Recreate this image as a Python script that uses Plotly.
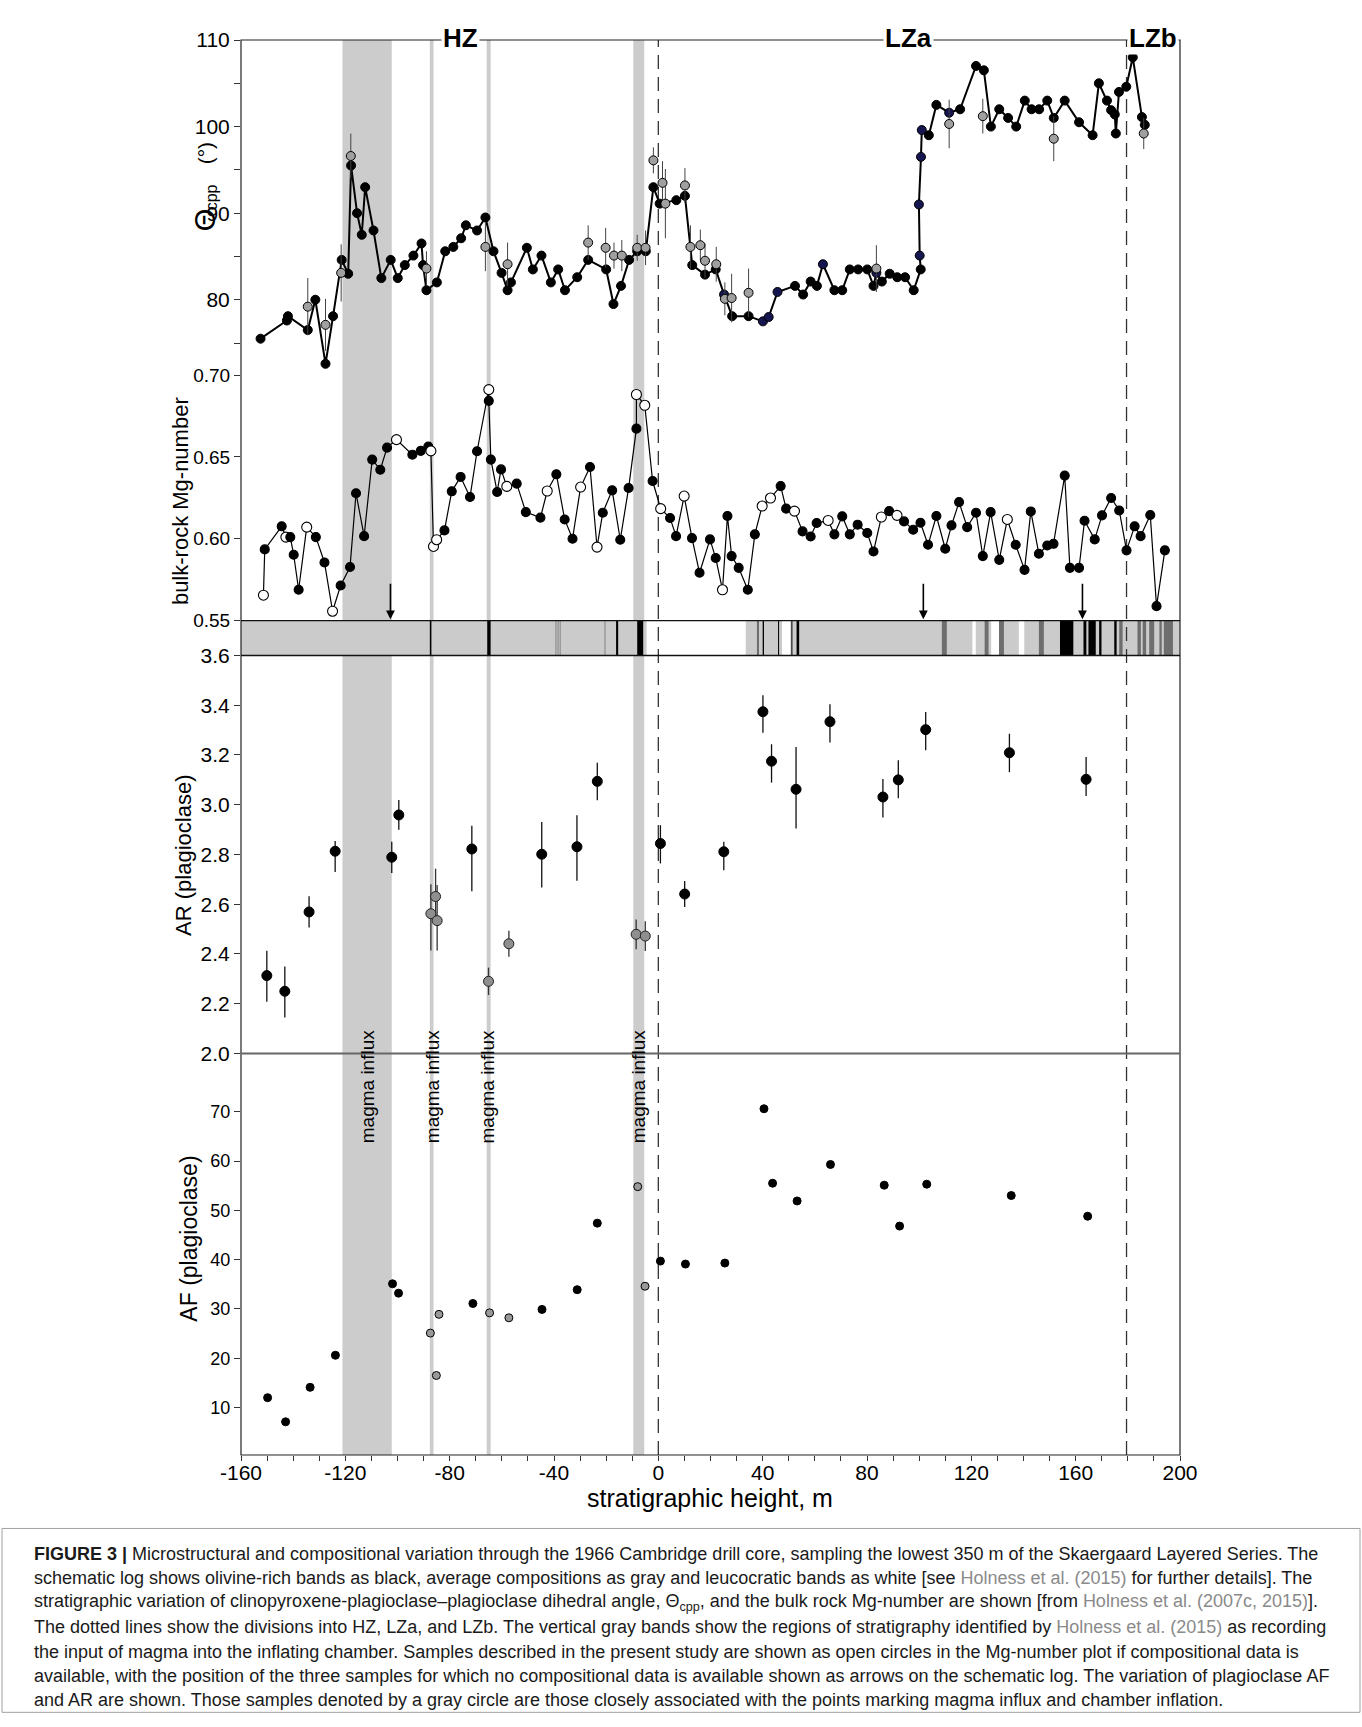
import plotly.graph_objects as go

# ---------------- DATA ----------------
# Theta_cpp main series (connected line), stratigraphic height (m) and angle (deg)
theta_h = [-152.5, -142.4, -142.0, -134.4, -131.5, -127.6, -124.7, -121.4, -118.9, -117.8,
           -115.5, -113.7, -112.4, -109.2, -106.2, -102.6, -99.9, -97.2, -93.9, -90.8,
           -90.2, -88.9, -84.9, -81.7, -78.6, -75.6, -73.8, -69.5, -66.3, -63.2,
           -60.1, -57.8, -56.5, -50.4, -48.1, -44.8, -41.2, -38.4, -35.8, -31.1,
           -26.9, -20.0, -17.2, -14.3, -11.2, -8.1, -4.8, -1.9, 0.5, 6.9,
           10.2, 13.0, 17.9, 22.0, 25.2, 28.3, 34.6, 40.1, 42.3, 45.7,
           52.4, 55.5, 58.4, 60.8, 63.1, 67.5, 70.5, 73.4, 76.6, 80.1,
           82.5, 83.6, 85.7, 88.7, 91.6, 94.6, 97.9, 100.6, 100.2, 99.9,
           100.7, 101.0, 103.7, 106.6, 111.5, 115.7, 121.8, 124.8, 127.5, 130.7,
           134.1, 137.2, 140.5, 143.1, 146.0, 149.1, 151.6, 155.8, 161.3, 166.5,
           168.9, 172.0, 173.6, 175.0, 175.4, 176.6, 179.4, 181.9, 185.4, 186.5]
theta_v = [75.5, 77.6, 78.1, 76.5, 80.0, 72.6, 78.1, 84.6, 83.0, 95.5,
           90.0, 87.5, 93.0, 88.0, 82.5, 84.6, 82.5, 84.0, 85.1, 86.5,
           84.0, 81.1, 82.0, 85.6, 86.1, 87.1, 88.6, 88.0, 89.5, 85.6,
           83.1, 81.1, 82.0, 86.0, 83.5, 85.1, 82.0, 83.5, 81.1, 82.6,
           84.6, 83.5, 79.5, 81.6, 84.6, 85.6, 85.6, 93.0, 91.1, 91.5,
           92.0, 84.0, 82.9, 83.5, 80.6, 78.1, 78.1, 77.5, 78.0, 80.9,
           81.6, 80.6, 82.1, 81.6, 84.1, 81.1, 81.1, 83.5, 83.5, 83.5,
           81.6, 83.1, 82.1, 83.0, 82.6, 82.6, 81.1, 83.5, 85.1, 91.0,
           96.5, 99.6, 99.0, 102.5, 101.6, 102.0, 107.0, 106.5, 100.0, 102.0,
           101.0, 100.0, 103.0, 102.0, 102.0, 103.0, 101.0, 103.0, 100.5, 99.0,
           105.0, 103.0, 101.9, 101.4, 99.2, 104.0, 104.6, 108.0, 101.1, 100.2]
theta_kind = ['k', 'k', 'k', 'k', 'k', 'k', 'k', 'k', 'k', 'k',
              'k', 'k', 'k', 'k', 'k', 'k', 'k', 'k', 'k', 'k',
              'k', 'k', 'k', 'k', 'k', 'k', 'k', 'k', 'k', 'k',
              'k', 'k', 'k', 'k', 'k', 'k', 'k', 'k', 'k', 'k',
              'k', 'k', 'k', 'k', 'k', 'k', 'k', 'k', 'k', 'k',
              'k', 'k', 'k', 'k', 'b', 'k', 'k', 'b', 'b', 'b',
              'k', 'k', 'k', 'k', 'b', 'k', 'k', 'k', 'k', 'k',
              'k', 'b', 'k', 'k', 'k', 'k', 'k', 'k', 'b', 'b',
              'b', 'b', 'k', 'k', 'b', 'k', 'k', 'k', 'k', 'k',
              'k', 'k', 'k', 'k', 'k', 'k', 'k', 'k', 'k', 'k',
              'k', 'k', 'k', 'k', 'k', 'k', 'k', 'k', 'k', 'k']

# Theta_cpp gray (magma-influx associated) samples with error bars
theta_gray_h = [-134.4, -127.6, -121.6, -117.9, -88.9, -66.3, -57.8, -26.9, -20.2, -17.0,
                -14.0, -8.1, -4.9, -1.9, 1.6, 2.7, 10.2, 12.3, 16.1, 17.9,
                22.2, 25.5, 28.1, 34.6, 83.6, 111.5, 124.4, 151.6, 186.1]
theta_gray_v = [79.2, 77.1, 83.1, 96.6, 83.6, 86.1, 84.1, 86.6, 86.0, 85.1,
                85.1, 86.0, 86.0, 96.1, 93.5, 91.1, 93.2, 86.1, 86.3, 84.5,
                84.1, 80.1, 80.2, 80.8, 83.6, 100.3, 101.2, 98.6, 99.2]
theta_gray_err = [3.3, 3.0, 3.3, 2.6, 2.0, 2.8, 2.5, 2.0, 2.3, 1.5,
                  1.8, 1.5, 2.0, 1.5, 2.5, 4.0, 2.0, 2.5, 1.8, 2.0,
                  2.0, 1.9, 2.8, 2.8, 2.7, 2.8, 2.0, 2.6, 1.8]

# bulk-rock Mg-number
mg_h = [-151.4, -150.9, -144.4, -142.8, -141.1, -139.8, -137.9, -134.8, -131.3, -128.0,
        -124.9, -121.8, -118.2, -115.9, -112.8, -109.7, -106.6, -104.0, -100.4, -94.3,
        -91.1, -88.2, -87.2, -86.2, -85.0, -82.0, -79.2, -75.8, -72.2, -69.5,
        -65.0, -65.0, -64.2, -61.8, -60.3, -58.1, -54.3, -50.8, -45.2, -42.6,
        -39.1, -35.9, -32.9, -29.8, -26.2, -23.5, -21.3, -17.7, -14.6, -11.4,
        -8.4, -8.4, -5.2, -2.2, 0.9, 4.5, 6.8, 9.9, 12.9, 15.8,
        19.8, 22.0, 24.6, 26.5, 28.1, 30.8, 34.3, 37.0, 39.8, 43.0,
        46.9, 49.0, 52.2, 55.3, 58.4, 60.7, 65.1, 67.5, 70.5, 73.4,
        76.4, 80.1, 82.5, 85.5, 88.5, 91.5, 94.2, 97.7, 100.5, 103.4,
        106.6, 110.0, 112.4, 115.3, 118.4, 121.8, 124.4, 127.4, 130.7, 133.8,
        137.0, 140.4, 142.8, 145.9, 149.1, 151.5, 155.8, 157.8, 161.3, 163.4,
        167.3, 170.1, 173.6, 176.7, 179.5, 182.6, 184.9, 188.6, 191.0, 194.2]
mg_v = [0.5655, 0.5935, 0.6076, 0.6010, 0.6010, 0.5902, 0.5688, 0.6071, 0.6010, 0.5855,
        0.5557, 0.5714, 0.5827, 0.6278, 0.6016, 0.6484, 0.6422, 0.6557, 0.6606, 0.6514,
        0.6537, 0.6563, 0.6537, 0.5953, 0.5994, 0.6051, 0.6290, 0.6378, 0.6255, 0.6535,
        0.6912, 0.6843, 0.6484, 0.6286, 0.6424, 0.6320, 0.6337, 0.6163, 0.6129, 0.6292,
        0.6394, 0.6118, 0.6000, 0.6316, 0.6439, 0.5949, 0.6159, 0.6296, 0.5994, 0.6310,
        0.6673, 0.6882, 0.6816, 0.6353, 0.6184, 0.6127, 0.6016, 0.6261, 0.6004, 0.5792,
        0.5996, 0.5882, 0.5688, 0.6139, 0.5894, 0.5822, 0.5688, 0.6027, 0.6200, 0.6249,
        0.6322, 0.6184, 0.6169, 0.6045, 0.6014, 0.6096, 0.6112, 0.6027, 0.6137, 0.6027,
        0.6086, 0.6035, 0.5922, 0.6133, 0.6169, 0.6143, 0.6106, 0.6055, 0.6098, 0.5963,
        0.6139, 0.5939, 0.6082, 0.6224, 0.6071, 0.6159, 0.5894, 0.6163, 0.5871, 0.6118,
        0.5963, 0.5810, 0.6167, 0.5908, 0.5959, 0.5969, 0.6386, 0.5822, 0.5822, 0.6110,
        0.5996, 0.6143, 0.6249, 0.6173, 0.5929, 0.6076, 0.6016, 0.6145, 0.5588, 0.5929]
mg_kind = ['o', 'k', 'k', 'o', 'k', 'k', 'k', 'o', 'k', 'k',
           'o', 'k', 'k', 'k', 'k', 'k', 'k', 'k', 'o', 'k',
           'k', 'k', 'o', 'o', 'o', 'k', 'k', 'k', 'k', 'k',
           'o', 'k', 'k', 'k', 'k', 'o', 'k', 'k', 'k', 'o',
           'k', 'k', 'k', 'o', 'k', 'o', 'k', 'k', 'k', 'k',
           'k', 'o', 'o', 'k', 'o', 'k', 'k', 'o', 'k', 'k',
           'k', 'k', 'o', 'k', 'k', 'k', 'k', 'k', 'o', 'o',
           'k', 'k', 'o', 'k', 'k', 'k', 'o', 'k', 'k', 'k',
           'k', 'k', 'k', 'o', 'k', 'o', 'k', 'k', 'k', 'k',
           'k', 'k', 'k', 'k', 'k', 'k', 'k', 'k', 'k', 'o',
           'k', 'k', 'k', 'k', 'k', 'k', 'k', 'k', 'k', 'k',
           'k', 'k', 'k', 'k', 'k', 'k', 'k', 'k', 'k', 'k']

# plagioclase AR
ar_h = [-150.1, -143.2, -133.9, -123.9, -102.2, -99.5, -71.5, -44.7, -31.2, -23.4,
        0.8, 10.1, 25.1, 40.1, 43.4, 52.8, 65.8, 86.1, 92.0, 102.5, 134.6, 164.0]
ar_v = [2.313, 2.250, 2.569, 2.813, 2.789, 2.959, 2.822, 2.801, 2.831, 3.094,
        2.844, 2.641, 2.811, 3.374, 3.175, 3.062, 3.334, 3.031, 3.100, 3.302, 3.209, 3.102]
ar_err_plus = [0.100, 0.100, 0.063, 0.041, 0.062, 0.060, 0.094, 0.130, 0.127, 0.075,
               0.074, 0.052, 0.040, 0.066, 0.068, 0.170, 0.070, 0.072, 0.079, 0.071, 0.076, 0.090]
ar_err_minus = [0.105, 0.105, 0.063, 0.083, 0.063, 0.060, 0.170, 0.134, 0.137, 0.076,
                0.080, 0.052, 0.074, 0.085, 0.086, 0.158, 0.084, 0.082, 0.074, 0.083, 0.078, 0.067]
ar_gray_h = [-87.2, -85.4, -84.8, -65.1, -57.3, -8.5, -5.0]
ar_gray_v = [2.562, 2.631, 2.534, 2.290, 2.441, 2.479, 2.472]
ar_gray_plus = [0.118, 0.112, 0.143, 0.055, 0.052, 0.060, 0.060]
ar_gray_minus = [0.148, 0.112, 0.120, 0.055, 0.052, 0.060, 0.060]

# plagioclase AF
af_h = [-149.8, -142.9, -133.5, -123.8, -101.9, -99.6, -71.1, -44.6, -31.1, -23.4,
        0.8, 10.4, 25.5, 40.5, 43.8, 53.2, 66.0, 86.6, 92.5, 102.9, 135.3, 164.6]
af_v = [12.0, 7.1, 14.1, 20.6, 35.1, 33.2, 31.1, 29.9, 33.9, 47.4,
        39.7, 39.1, 39.3, 70.6, 55.5, 51.9, 59.3, 55.1, 46.8, 55.3, 53.0, 48.8]
af_gray_h = [-87.4, -85.1, -84.1, -64.7, -57.3, -7.9, -5.1]
af_gray_v = [25.1, 16.5, 28.9, 29.2, 28.2, 54.8, 34.6]

# schematic log: segments (start, end, class) G=gray, W=white, K=black (olivine-rich), D=dark gray
log_start = [-160.0, -4.5, -87.6, -65.6, -39.4, -38.6, -37.8, -20.6, -16.2, -8.1,
             37.8, 40.0, 45.9, 47.4, 51.0, 53.0, 108.7, 120.4, 125.1, 127.6,
             130.6, 138.2, 145.9, 154.0, 163.0, 164.9, 169.0, 174.8, 176.7, 183.7,
             185.7, 188.2, 192.1, 193.8]
log_end = [200.0, 33.5, -87.0, -64.3, -39.1, -38.3, -37.5, -20.3, -15.4, -5.8,
           38.6, 40.5, 46.3, 50.6, 51.4, 54.0, 110.6, 121.7, 126.6, 130.6,
           132.5, 140.3, 147.8, 159.1, 164.1, 167.7, 169.9, 175.7, 178.0, 185.0,
           187.0, 190.1, 193.0, 197.3]
log_class = ['G', 'W', 'K', 'K', 'D', 'D', 'D', 'D', 'K', 'K',
             'D', 'K', 'K', 'W', 'K', 'K', 'D', 'W', 'D', 'W',
             'D', 'W', 'D', 'K', 'K', 'K', 'K', 'K', 'D', 'D',
             'D', 'D', 'D', 'D']

# magma influx bands
band_start = [-121.1, -87.6, -65.8, -9.6]
band_end = [-102.2, -86.2, -64.3, -5.4]
influx_label_x = [-111.5, -86.6, -65.4, -7.6]

# stratigraphic divisions
division_h = [0.0, 179.5]
zone_names = ['HZ', 'LZa', 'LZb']
zone_x = [-76.0, 96.0, 189.5]

# samples without compositional data (arrows)
arrow_h = [-102.7, 101.6, 162.6]

x_ticks = [-160, -120, -80, -40, 0, 40, 80, 120, 160, 200]
x_minor = [-150, -140, -130, -110, -100, -90, -70, -60, -50, -30, -20, -10, 10, 20, 30,
           50, 60, 70, 90, 100, 110, 130, 140, 150, 170, 180, 190]
theta_ticks = [75, 80, 85, 90, 95, 100, 105, 110]
theta_ticklabels = ['', '80', '', '90', '', '100', '', '110']
mg_ticks = [0.55, 0.60, 0.65, 0.70]
ar_ticks = [2.0, 2.2, 2.4, 2.6, 2.8, 3.0, 3.2, 3.4, 3.6]
af_ticks = [10, 20, 30, 40, 50, 60, 70]

# ---------------- LAYOUT GEOMETRY (pixels) ----------------
W, H = 1362, 1727
L, R, T, B = 241, 1180, 39.6, 1455.5
def py(y):
    return (B - y) / (B - T)
def pxf(x):
    return (x - L) / (R - L)

FONT = 'Liberation Sans, Arial, sans-serif'
GRAYBAND = '#cccccc'
log_colors = {'G': '#cbcbcb', 'W': '#ffffff', 'K': '#000000', 'D': '#6e6e6e'}

fig = go.Figure()

# Theta main line
fig.add_trace(go.Scatter(
    x=theta_h, y=theta_v, mode='lines+markers', xaxis='x', yaxis='y',
    line=dict(color='black', width=2),
    marker=dict(size=9, opacity=1, color=['#15154f' if k == 'b' else '#000000' for k in theta_kind],
                line=dict(color='#000000', width=1)),
    showlegend=False))
# Theta gray
fig.add_trace(go.Scatter(
    x=theta_gray_h, y=theta_gray_v, mode='markers', xaxis='x', yaxis='y',
    marker=dict(size=9, opacity=1, color='#a0a0a0', line=dict(color='#000000', width=1)),
    error_y=dict(type='data', array=theta_gray_err, color='#444444', thickness=1, width=0),
    showlegend=False))
# Mg-number
fig.add_trace(go.Scatter(
    x=mg_h, y=mg_v, mode='lines+markers', xaxis='x', yaxis='y2',
    line=dict(color='#000000', width=1.2),
    marker=dict(size=[10 if k == 'o' else 9 for k in mg_kind], opacity=1,
                color=['#ffffff' if k == 'o' else '#000000' for k in mg_kind],
                line=dict(color='#000000', width=1.1)),
    showlegend=False))
# AR black
fig.add_trace(go.Scatter(
    x=ar_h, y=ar_v, mode='markers', xaxis='x', yaxis='y3',
    marker=dict(size=10, color='#000000', line=dict(color='#000000', width=1)),
    error_y=dict(type='data', symmetric=False, array=ar_err_plus, arrayminus=ar_err_minus,
                 color='#111111', thickness=1.3, width=0),
    showlegend=False))
# AR gray
fig.add_trace(go.Scatter(
    x=ar_gray_h, y=ar_gray_v, mode='markers', xaxis='x', yaxis='y3',
    marker=dict(size=10, color='#8f8f8f', line=dict(color='#222222', width=1)),
    error_y=dict(type='data', symmetric=False, array=ar_gray_plus, arrayminus=ar_gray_minus,
                 color='#333333', thickness=1.3, width=0),
    showlegend=False))
# AF
fig.add_trace(go.Scatter(
    x=af_h, y=af_v, mode='markers', xaxis='x', yaxis='y4',
    marker=dict(size=8, color='#000000', line=dict(color='#000000', width=1)),
    showlegend=False))
fig.add_trace(go.Scatter(
    x=af_gray_h, y=af_gray_v, mode='markers', xaxis='x', yaxis='y4',
    marker=dict(size=8, color='#999999', line=dict(color='#000000', width=1)),
    showlegend=False))

shapes = []
# magma influx bands
for s, e in zip(band_start, band_end):
    shapes.append(dict(type='rect', xref='x', yref='paper', x0=s, x1=e, y0=0, y1=1,
                       fillcolor=GRAYBAND, line=dict(width=0), layer='below'))
# schematic log
strip_lo, strip_hi = py(655.5), py(620.5)
for s, e, c in zip(log_start, log_end, log_class):
    shapes.append(dict(type='rect', xref='x', yref='paper', x0=s, x1=e, y0=strip_lo, y1=strip_hi,
                       fillcolor=log_colors[c], line=dict(width=0), layer='below'))
# division dashed lines
for d in division_h:
    shapes.append(dict(type='line', xref='x', yref='paper', x0=d, x1=d, y0=0, y1=1,
                       line=dict(color='#333333', width=1.3, dash='14px,8px'), layer='below'))
# frame and separators
shapes.append(dict(type='rect', xref='paper', yref='paper', x0=0, x1=1, y0=0, y1=1,
                   line=dict(color='#222222', width=1.2), layer='above'))
for yy in (strip_lo, strip_hi):
    shapes.append(dict(type='line', xref='paper', yref='paper', x0=0, x1=1, y0=yy, y1=yy,
                       line=dict(color='#111111', width=1.3), layer='above'))
shapes.append(dict(type='line', xref='paper', yref='paper', x0=0, x1=1, y0=py(1053.7), y1=py(1053.7),
                   line=dict(color='#666666', width=2), layer='above'))
# caption box
shapes.append(dict(type='rect', xref='paper', yref='paper', x0=pxf(2), x1=pxf(1360),
                   y0=py(1713), y1=py(1529), line=dict(color='#a0a0a0', width=1)))

ann = []
for name, xz in zip(zone_names, zone_x):
    ann.append(dict(x=xz, y=1, xref='x', yref='paper', text='<b>%s</b>' % name, showarrow=False,
                    yanchor='middle', xanchor='center', yshift=2, bgcolor='white', borderpad=1,
                    font=dict(family=FONT, size=26, color='black')))
for xz in influx_label_x:
    ann.append(dict(x=xz, y=py(1087), xref='x', yref='paper', text='magma influx', textangle=-90,
                    showarrow=False, xanchor='center', yanchor='middle',
                    font=dict(family=FONT, size=19, color='black')))
for ah in arrow_h:
    ann.append(dict(x=ah, y=0.5508, xref='x', yref='y2', text='', showarrow=True, ax=0, ay=-37,
                    arrowhead=2, arrowsize=1.1, arrowwidth=1.6, arrowcolor='black'))

def vtitle(text, xpix, ypix, size):
    return dict(x=pxf(xpix), y=py(ypix), xref='paper', yref='paper', textangle=-90, showarrow=False,
                xanchor='center', yanchor='middle', text=text,
                font=dict(family=FONT, size=size, color='black'))

# Theta_cpp title built from pieces: big Theta, subscript cpp, (°)
ann.append(vtitle('Θ', 205, 220, 29))
ann.append(vtitle('cpp', 211, 197, 16))
ann.append(vtitle('(°)', 205, 153, 21))
ann.append(vtitle('bulk-rock Mg-number', 180, 501, 22))
ann.append(vtitle('AR (plagioclase)', 184, 856, 22))
ann.append(vtitle('AF (plagioclase)', 189, 1239, 23))
ann.append(dict(x=pxf(710), y=py(1499), xref='paper', yref='paper', showarrow=False,
                xanchor='center', yanchor='middle',
                text='stratigraphic height, m', font=dict(family=FONT, size=25, color='black')))

G = '<span style="color:#8a8a8a">'
caption_lines = [
    '<b>FIGURE 3 |</b> Microstructural and compositional variation through the 1966 Cambridge drill core, sampling the lowest 350 m of the Skaergaard Layered Series. The',
    'schematic log shows olivine-rich bands as black, average compositions as gray and leucocratic bands as white [see ' + G + 'Holness et al. (2015)</span> for further details]. The',
    'stratigraphic variation of clinopyroxene-plagioclase–plagioclase dihedral angle, Θ<sub>cpp</sub>, and the bulk rock Mg-number are shown [from ' + G + 'Holness et al. (2007c, 2015)</span>].',
    'The dotted lines show the divisions into HZ, LZa, and LZb. The vertical gray bands show the regions of stratigraphy identified by ' + G + 'Holness et al. (2015)</span> as recording',
    'the input of magma into the inflating chamber. Samples described in the present study are shown as open circles in the Mg-number plot if compositional data is',
    'available, with the position of the three samples for which no compositional data is available shown as arrows on the schematic log. The variation of plagioclase AF',
    'and AR are shown. Those samples denoted by a gray circle are those closely associated with the points marking magma influx and chamber inflation.',
]
caption_y = [1555, 1579, 1603, 1627.5, 1652.5, 1677, 1701]
for line, yy in zip(caption_lines, caption_y):
    ann.append(dict(x=pxf(32), y=py(yy), xref='paper', yref='paper', text=line, showarrow=False,
                    xanchor='left', yanchor='middle', align='left',
                    font=dict(family=FONT, size=18, color='#1a1a1a')))

axis_common = dict(showgrid=False, zeroline=False, showline=False, ticks='outside', ticklen=6,
                   tickcolor='#333333', tickwidth=1, anchor='x', automargin=False)
fig.update_layout(
    width=W, height=H, paper_bgcolor='white', plot_bgcolor='white',
    margin=dict(l=L, r=W - R, t=T, b=H - B, pad=0, autoexpand=False),
    font=dict(family=FONT, color='black'),
    xaxis=dict(range=[-160, 200], tickvals=x_ticks, ticktext=[str(v) for v in x_ticks],
               showgrid=False, zeroline=False, showline=False, ticks='outside', ticklen=5,
               tickcolor='#333333', anchor='y4', automargin=False, tickfont=dict(size=21),
               minor=dict(tickvals=x_minor, ticks='outside', ticklen=5, tickcolor='#333333')),
    yaxis=dict(domain=[py(368.8), 1], range=[72, 110], tickvals=theta_ticks, ticktext=theta_ticklabels,
               tickfont=dict(size=21), **axis_common),
    yaxis2=dict(domain=[py(620.5), py(375)], range=[0.55, 0.70], tickvals=mg_ticks,
                ticktext=['%.2f' % v for v in mg_ticks], tickfont=dict(size=19), **axis_common),
    yaxis3=dict(domain=[py(1053.7), py(655.5)], range=[2.0, 3.6], tickvals=ar_ticks,
                ticktext=['%.1f' % v for v in ar_ticks], tickfont=dict(size=21), **axis_common),
    yaxis4=dict(domain=[0, py(1053.7)], range=[0.37, 81.82], tickvals=af_ticks,
                ticktext=[str(v) for v in af_ticks], tickfont=dict(size=18), **axis_common),
    shapes=shapes, annotations=ann,
)
try:
    fig.layout.xaxis.ticklabelstandoff = -6
except Exception:
    pass

fig.write_html('out.html', config={'displayModeBar': False},
               post_script="document.body.style.margin='0px';document.body.style.padding='0px';")
